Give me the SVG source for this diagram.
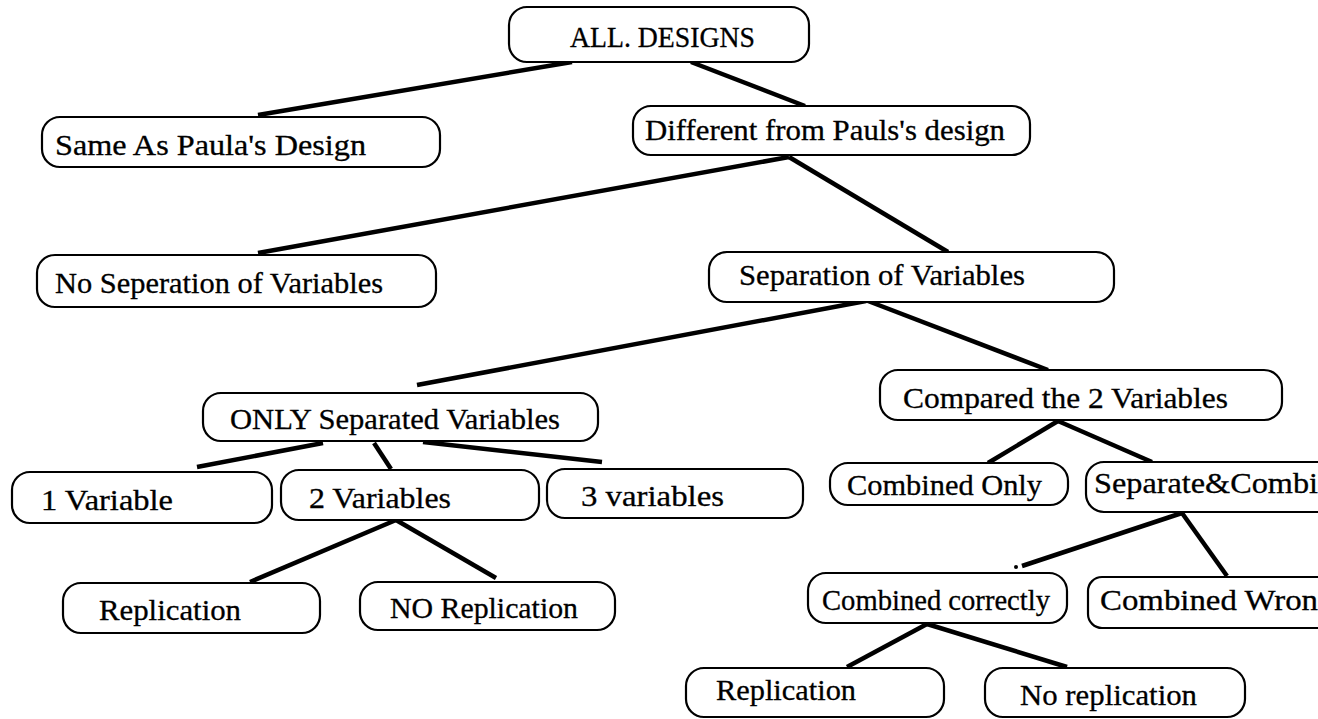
<svg xmlns="http://www.w3.org/2000/svg" width="1318" height="719" viewBox="0 0 1318 719">
<style>
.box{fill:#fff;stroke:#000;stroke-width:2.2}
.t{font-family:"Liberation Serif","Times New Roman",serif;font-size:29px;fill:#000;stroke:#000;stroke-width:0.3}
.c line{stroke:#000;stroke-width:4.5;stroke-linecap:butt}
</style>
<rect width="1318" height="719" fill="#fff"/>
<g id="connectors" class="c">
<line x1="572" y1="62" x2="258" y2="115"/>
<line x1="691" y1="62" x2="805" y2="106"/>
<line x1="789" y1="157" x2="258" y2="253"/>
<line x1="789" y1="157" x2="948" y2="252"/>
<line x1="866" y1="301" x2="417" y2="385"/>
<line x1="868" y1="301" x2="1048" y2="370"/>
<line x1="323" y1="443" x2="197" y2="467"/>
<line x1="374" y1="443" x2="391" y2="469"/>
<line x1="423" y1="442" x2="602" y2="462"/>
<line x1="396" y1="520" x2="250" y2="582"/>
<line x1="396" y1="520" x2="496" y2="578"/>
<line x1="1058" y1="421" x2="988" y2="463"/>
<line x1="1058" y1="421" x2="1152" y2="462"/>
<line x1="1182" y1="513" x2="1022" y2="566"/>
<circle cx="1016" cy="567" r="2" fill="#000"/>
<line x1="1182" y1="513" x2="1227" y2="576"/>
<line x1="927" y1="624" x2="847" y2="667"/>
<line x1="927" y1="624" x2="1067" y2="667"/>
</g>
<g id="n-all"><rect class="box" x="509" y="7" width="300" height="55" rx="18"/><text class="t" x="570" y="47" textLength="185" lengthAdjust="spacingAndGlyphs">ALL. DESIGNS</text></g>
<g id="n-same"><rect class="box" x="42" y="117" width="398" height="50" rx="18"/><text class="t" x="55" y="155" textLength="311" lengthAdjust="spacingAndGlyphs">Same As Paula's Design</text></g>
<g id="n-diff"><rect class="box" x="633" y="106" width="397" height="49" rx="18"/><text class="t" x="645" y="140" textLength="360" lengthAdjust="spacingAndGlyphs">Different from Pauls's design</text></g>
<g id="n-nosep"><rect class="box" x="37" y="255" width="399" height="52" rx="18"/><text class="t" x="55" y="293" textLength="328" lengthAdjust="spacingAndGlyphs">No Seperation of Variables</text></g>
<g id="n-sep"><rect class="box" x="709" y="252" width="405" height="50" rx="18"/><text class="t" x="739" y="285" textLength="286" lengthAdjust="spacingAndGlyphs">Separation of Variables</text></g>
<g id="n-only"><rect class="box" x="203" y="393" width="395" height="48" rx="18"/><text class="t" x="230" y="429" textLength="330" lengthAdjust="spacingAndGlyphs">ONLY  Separated Variables</text></g>
<g id="n-compared"><rect class="box" x="880" y="370" width="402" height="50" rx="18"/><text class="t" x="903" y="408" textLength="325" lengthAdjust="spacingAndGlyphs">Compared the 2  Variables</text></g>
<g id="n-1var"><rect class="box" x="12" y="472" width="260" height="51" rx="18"/><text class="t" x="41" y="510" textLength="132" lengthAdjust="spacingAndGlyphs">1 Variable</text></g>
<g id="n-2var"><rect class="box" x="281" y="470" width="258" height="50" rx="18"/><text class="t" x="309" y="508" textLength="142" lengthAdjust="spacingAndGlyphs">2 Variables</text></g>
<g id="n-3var"><rect class="box" x="547" y="469" width="256" height="49" rx="18"/><text class="t" x="581" y="506" textLength="143" lengthAdjust="spacingAndGlyphs">3  variables</text></g>
<g id="n-combonly"><rect class="box" x="830" y="463" width="238" height="42" rx="18"/><text class="t" x="847" y="495" textLength="195" lengthAdjust="spacingAndGlyphs">Combined Only</text></g>
<g id="n-sepcomb"><rect class="box" x="1086" y="462" width="260" height="50" rx="18"/><text class="t" x="1094" y="493" textLength="224" lengthAdjust="spacingAndGlyphs">Separate&amp;Combi</text></g>
<g id="n-rep1"><rect class="box" x="63" y="583" width="257" height="50" rx="18"/><text class="t" x="99" y="620" textLength="142" lengthAdjust="spacingAndGlyphs">Replication</text></g>
<g id="n-norep1"><rect class="box" x="360" y="582" width="255" height="48" rx="18"/><text class="t" x="390" y="618" textLength="188" lengthAdjust="spacingAndGlyphs">NO Replication</text></g>
<g id="n-combcorrect"><rect class="box" x="808" y="573" width="259" height="50" rx="18"/><text class="t" x="822" y="610" textLength="228" lengthAdjust="spacingAndGlyphs">Combined correctly</text></g>
<g id="n-combwrong"><rect class="box" x="1088" y="577" width="260" height="51" rx="14"/><text class="t" x="1100" y="610" textLength="218" lengthAdjust="spacingAndGlyphs">Combined Wron</text></g>
<g id="n-rep2"><rect class="box" x="686" y="668" width="258" height="49" rx="18"/><text class="t" x="716" y="700" textLength="140" lengthAdjust="spacingAndGlyphs">Replication</text></g>
<g id="n-norep2"><rect class="box" x="985" y="668" width="260" height="49" rx="18"/><text class="t" x="1020" y="705" textLength="177" lengthAdjust="spacingAndGlyphs">No replication</text></g>
</svg>
